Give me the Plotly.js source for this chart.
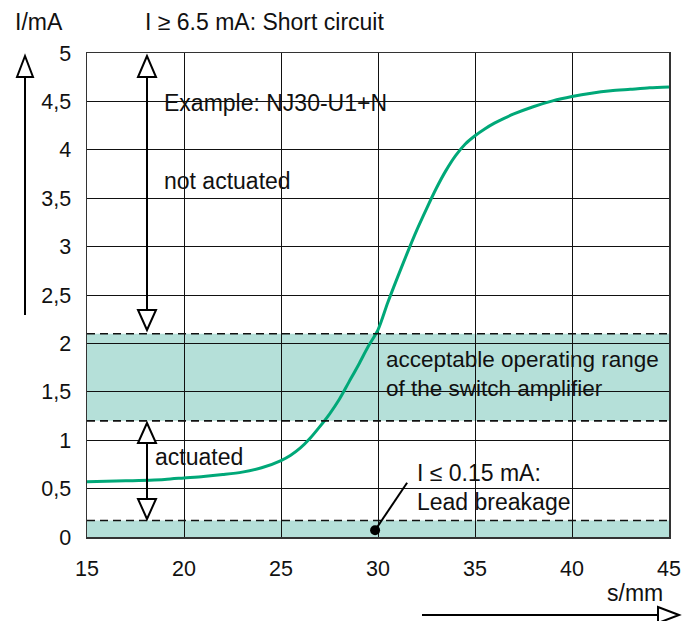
<!DOCTYPE html>
<html>
<head>
<meta charset="utf-8">
<script src="https://cdn.plot.ly/plotly-3.0.1.min.js"></script>
<style>html,body{margin:0;padding:0;background:#fff;}#chart{width:694px;height:621px;}</style>
</head>
<body>
<div id="chart"></div>
<script>
// ---- data ----
const distance = [15,17,19,20,21,22,23,24,25,25.5,26,26.5,27,27.5,28,28.5,29,29.5,30,30.5,31,31.5,32,32.5,33,33.5,34,34.5,35,35.5,36,36.5,37,38,39,40,41,42,43,44,45];
const current  = [0.57,0.58,0.595,0.61,0.625,0.645,0.67,0.715,0.79,0.845,0.92,1.02,1.14,1.27,1.42,1.6,1.78,1.97,2.14,2.42,2.68,2.93,3.17,3.39,3.60,3.785,3.94,4.06,4.145,4.215,4.275,4.325,4.37,4.445,4.505,4.55,4.585,4.61,4.625,4.64,4.65];
const xTickVals = [15,20,25,30,35,40,45];
const xTickText = ["15","20","25","30","35","40","45"];
const yTickVals = [0,0.5,1,1.5,2,2.5,3,3.5,4,4.5,5];
const yTickText = ["0","0,5","1","1,5","2","2,5","3","3,5","4","4,5","5"];
const operatingRange = [1.2, 2.1];   // mA
const leadBreakage = [0, 0.17];       // mA (drawn band)
const breakagePoint = [29.85, 0.07];

// ---- layout helpers (pixel -> paper) ----
const W = 694, H = 621, L = 87, R = 669, T = 53, B = 537;
const px = v => (v - L) / (R - L);
const py = v => (B - v) / (B - T);
const FONT = "Liberation Sans, Arial, Helvetica, sans-serif";
const teal = "#b5e0d9";
const green = "#00a878";

const shapes = [];
// bands
[operatingRange, leadBreakage].forEach(b => {
  shapes.push({type:"rect", xref:"x", yref:"y", x0:15, x1:45, y0:b[0], y1:b[1], fillcolor:teal, line:{width:0}, layer:"below"});
});
// dashed boundaries
[operatingRange[0], operatingRange[1], leadBreakage[1]].forEach(v => {
  shapes.push({type:"line", xref:"x", yref:"y", x0:15, x1:45, y0:v, y1:v, line:{color:"#111", width:1.6, dash:"8px,5px"}, layer:"above"});
});
function line(x0,y0,x1,y1,w){ shapes.push({type:"line", xref:"paper", yref:"paper", x0:px(x0), y0:py(y0), x1:px(x1), y1:py(y1), line:{color:"#000", width:w||2}}); }
function tri(pts){ let p = "M" + pts.map(q => px(q[0]) + "," + py(q[1])).join(" L") + " Z";
  shapes.push({type:"path", xref:"paper", yref:"paper", path:p, fillcolor:"#fff", line:{color:"#000", width:2}}); }
// left vertical arrow
line(25,77,25,315);
tri([[25,56],[17,77],[33,77]]);
// top double arrow
line(147,77,147,310);
tri([[147,56],[138,77],[156,77]]);
tri([[147,330],[138,310],[156,310]]);
// lower double arrow
line(147,443,147,499);
tri([[147,423],[138,443],[156,443]]);
tri([[147,519],[138,499],[156,499]]);
// bottom horizontal arrow
line(422,615,658,615);
tri([[679,615],[658,607],[658,623]]);
// leader line for lead breakage
shapes.push({type:"line", xref:"x", yref:"y", x0:breakagePoint[0], y0:breakagePoint[1], x1:31.5, y1:0.56, line:{color:"#000", width:2}});

const annotations = [];
function txt(t, x, y, size){ annotations.push({text:t, xref:"paper", yref:"paper", x:px(x), y:py(y), xanchor:"left", yanchor:"middle", showarrow:false, font:{family:FONT, size:size||23, color:"#111"}}); }
txt("I/mA", 13, 22);
txt("I ≥ 6.5 mA: Short circuit", 143, 22);
txt("Example: NJ30-U1+N", 162, 103);
txt("not actuated", 162, 181);
txt("acceptable operating range", 384, 359, 22.5);
txt("of the switch amplifier", 384, 388, 22.5);
txt("actuated", 153, 457);
txt("I ≤ 0.15 mA:", 415, 473);
txt("Lead breakage", 415, 502);
txt("s/mm", 605, 593);

const traces = [
  {x: distance, y: current, type:"scatter", mode:"lines", line:{color:green, width:3, shape:"spline", smoothing:0.8}, hoverinfo:"skip"},
  {x:[breakagePoint[0]], y:[breakagePoint[1]], type:"scatter", mode:"markers", marker:{color:"#000", size:10}, hoverinfo:"skip", cliponaxis:false}
];

const layout = {
  width: W, height: H,
  margin: {l: L, r: W - R, t: T, b: H - B},
  paper_bgcolor: "#fff", plot_bgcolor: "#fff",
  showlegend: false,
  font: {family: FONT, size: 21.5, color: "#111"},
  xaxis: {range:[15,45], tickvals:xTickVals, ticktext:xTickText, showgrid:true, gridcolor:"#111", gridwidth:1,
          zeroline:false, showline:true, linecolor:"#333", linewidth:1.5, mirror:true, ticks:"", ticklabelstandoff:12, fixedrange:true},
  yaxis: {range:[0,5], tickvals:yTickVals, ticktext:yTickText, showgrid:true, gridcolor:"#111", gridwidth:1,
          zeroline:false, showline:true, linecolor:"#333", linewidth:1.5, mirror:true, ticks:"", ticklabelstandoff:10, fixedrange:true},
  shapes: shapes,
  annotations: annotations
};
Plotly.newPlot("chart", traces, layout, {staticPlot:true, displayModeBar:false});
</script>
</body>
</html>
